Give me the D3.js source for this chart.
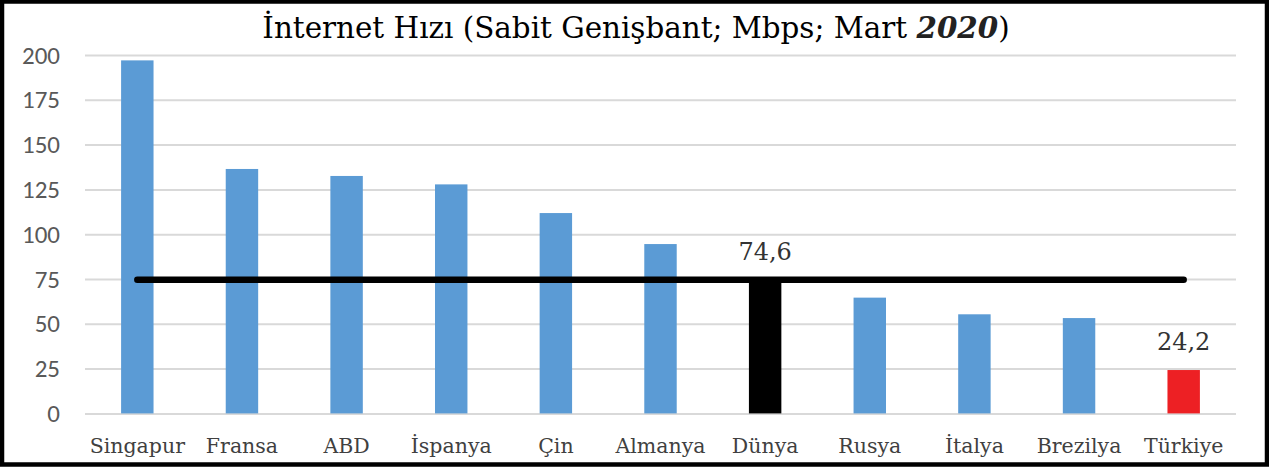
<!DOCTYPE html>
<html>
<head>
<meta charset="utf-8">
<script src="https://cdn.jsdelivr.net/npm/d3@7"></script>
<style>
  html, body { margin: 0; padding: 0; background: #fff; }
  svg { display: block; }
</style>
</head>
<body>
<svg id="chart" width="1269" height="467"></svg>
<script>
const categories = ["Singapur", "Fransa", "ABD", "İspanya", "Çin", "Almanya", "Dünya", "Rusya", "İtalya", "Brezilya", "Türkiye"];
const values = [197.0, 136.4, 132.5, 127.8, 111.8, 94.5, 74.6, 64.6, 55.3, 53.2, 24.2];
const yTicks = [0, 25, 50, 75, 100, 125, 150, 175, 200];
const labelledCategories = ["Dünya", "Türkiye"];
const worldAverage = 74.6;
const titleMain = "İnternet Hızı (Sabit Genişbant; Mbps; Mart ";
const titleYear = "2020";
const titleEnd = ")";

const W = 1269, H = 467;
const svg = d3.select("#chart");

const x = d3.scaleBand().domain(categories).range([85, 1236]).paddingInner(0.69).paddingOuter(0.345);
const y = d3.scaleLinear().domain([0, 200]).range([413.4, 55]);

const colorOf = c => c === "Dünya" ? "#000000" : (c === "Türkiye" ? "#ed2024" : "#5b9bd5");
const trFormat = d3.formatLocale({decimal: ",", thousands: ".", grouping: [3], currency: ["", ""]}).format(".1f");

// gridlines
const yAxis = d3.axisLeft(y).tickValues(yTicks).tickSize(-(1236 - 85)).tickPadding(25);
const gy = svg.append("g").attr("transform", "translate(85,0)").call(yAxis);
gy.select(".domain").remove();
gy.selectAll(".tick line").attr("stroke", "#d9d9d9").attr("stroke-width", 2);
gy.selectAll(".tick text")
  .attr("fill", "#595959")
  .style("font-family", "Carlito, Lato, 'Open Sans', sans-serif")
  .style("font-size", "25px");

// bars
svg.append("g").selectAll("rect").data(categories).join("rect")
  .attr("x", c => x(c))
  .attr("width", x.bandwidth())
  .attr("y", (c, i) => y(values[i]))
  .attr("height", (c, i) => y(0) - y(values[i]))
  .attr("fill", c => colorOf(c));

// average line
svg.append("line")
  .attr("x1", x(categories[0]) + x.bandwidth() / 2)
  .attr("x2", x(categories[categories.length - 1]) + x.bandwidth() / 2)
  .attr("y1", y(worldAverage))
  .attr("y2", y(worldAverage))
  .attr("stroke", "#000")
  .attr("stroke-width", 6.5)
  .attr("stroke-linecap", "round");

// value labels
svg.append("g").selectAll("text")
  .data(categories.map((c, i) => ({c, v: values[i]})).filter(d => labelledCategories.includes(d.c)))
  .join("text")
  .attr("x", d => x(d.c) + x.bandwidth() / 2)
  .attr("y", d => y(d.v) - 20)
  .attr("text-anchor", "middle")
  .attr("fill", "#333")
  .style("font-family", "'DejaVu Serif', serif")
  .style("font-size", "24px")
  .text(d => trFormat(d.v));

// x labels
const xAxis = d3.axisBottom(x).tickSize(0).tickPadding(0);
const gx = svg.append("g").attr("transform", "translate(0,453)").call(xAxis);
gx.select(".domain").remove();
gx.selectAll(".tick text")
  .attr("dy", 0)
  .attr("y", 0)
  .attr("fill", "#404040")
  .style("font-family", "'DejaVu Serif', serif")
  .style("font-size", "20.5px");

// title
const title = svg.append("text")
  .attr("x", 636).attr("y", 38)
  .attr("text-anchor", "middle")
  .attr("fill", "#000")
  .style("font-family", "'DejaVu Serif', serif")
  .style("font-size", "24px");
title.append("tspan").text(titleMain);
title.append("tspan").style("font-weight", "bold").style("font-style", "italic").attr("fill", "#222").text(titleYear);
title.append("tspan").text(titleEnd);
const tw = title.node().getComputedTextLength();
title.style("font-size", (24 * 748 / tw) + "px");

// frame
svg.append("rect")
  .attr("x", 2).attr("y", 1.5).attr("width", W - 4).attr("height", H - 4)
  .attr("fill", "none").attr("stroke", "#000").attr("stroke-width", 4.5);
</script>
</body>
</html>
